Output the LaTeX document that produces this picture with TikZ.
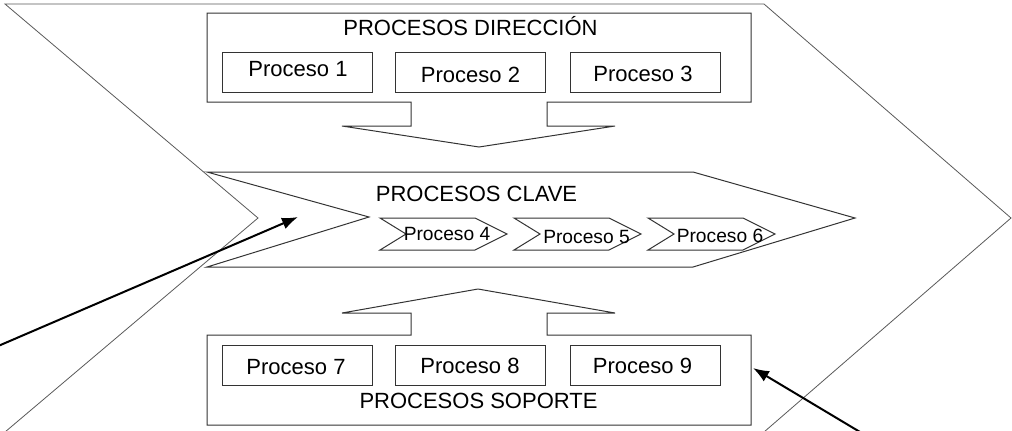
\documentclass[tikz,border=0pt]{standalone}
\usepackage{fontspec}
\setmainfont{Liberation Sans}
\usetikzlibrary{arrows.meta}
\tikzset{
  outline/.style={draw=black!80, line width=0.75pt, line join=miter},
  bigchev/.style={draw=black!65, line width=0.6pt},
  pbox/.style={draw=black!80, line width=0.75pt, minimum width=112.5pt,
    minimum height=30pt, inner sep=0pt},
  lbl/.style={font=\fontsize{16.5}{19}\selectfont, inner sep=0pt, anchor=base},
  slbl/.style={font=\fontsize{14.4}{17}\selectfont, inner sep=0pt, anchor=base},
  pointer/.style={draw=black, line width=1.5pt, -{Latex[length=12pt,width=9pt]}},
}
\begin{document}
\begin{tikzpicture}[x=0.75pt, y=-0.75pt]
\useasboundingbox (0,0) rectangle (1012,430);
\clip (0,0) rectangle (1012,430);

% large background chevron
\draw[bigchev] (5,4) -- (764,4) -- (1011,218) -- (764,432) -- (5,432) -- (258,218) -- cycle;

% management processes: container merged with the downward arrow
\draw[outline] (411,102) -- (207,102) -- (207,13) -- (751,13) -- (751,102) -- (547,102)
  -- (547,126) -- (615,126) -- (479,147) -- (342,126) -- (411,126) -- cycle;
\node[lbl] (dir) at (470.5,35.5) {PROCESOS DIRECCIÓN};
\node[pbox] (p1) at (297,72) {};
\node[pbox] (p2) at (470.5,72) {};
\node[pbox] (p3) at (645,72) {};
\node[lbl] (t1) at (298,76) {Proceso 1};
\node[lbl] (t2) at (470.5,82) {Proceso 2};
\node[lbl] (t3) at (643,81.5) {Proceso 3};

% key processes: large arrow with three small chevrons
\draw[outline] (207,172) -- (693,172) -- (855,218) -- (693,267) -- (207,267) -- (369,217) -- cycle;
\node[lbl] (clave) at (476.5,201.5) {PROCESOS CLAVE};
\foreach \x/\n/\tx/\by in {380/4/447/240, 514/5/586.5/243, 648/6/720/242} {
  \draw[outline] (\x,218) -- ({\x+95},218) -- ({\x+127},234) -- ({\x+95},250)
    -- (\x,250) -- ({\x+26},234) -- cycle;
  \node[slbl] (k\n) at (\tx,\by) {Proceso \n};
}

% support processes: container merged with the upward arrow
\draw[outline] (411,335) -- (207,335) -- (207,425) -- (751,425) -- (751,335) -- (547,335)
  -- (547,313) -- (615,313) -- (478,289) -- (342,313) -- (411,313) -- cycle;
\node[pbox] (p7) at (297,365.5) {};
\node[pbox] (p8) at (470.5,365.5) {};
\node[pbox] (p9) at (645,365.5) {};
\node[lbl] (t7) at (296,374) {Proceso 7};
\node[lbl] (t8) at (470,373.5) {Proceso 8};
\node[lbl] (t9) at (642.5,373.5) {Proceso 9};
\node[lbl] (sop) at (478.5,408) {PROCESOS SOPORTE};

% pointers
\coordinate (ltail) at (-3,346.5);
\coordinate (ltip) at (298,217);
\coordinate (rtail) at (860,432);
\coordinate (rtip) at (753,368);
\draw[pointer] (ltail) -- (ltip);
\draw[pointer] (rtail) -- (rtip);
\end{tikzpicture}
\end{document}
